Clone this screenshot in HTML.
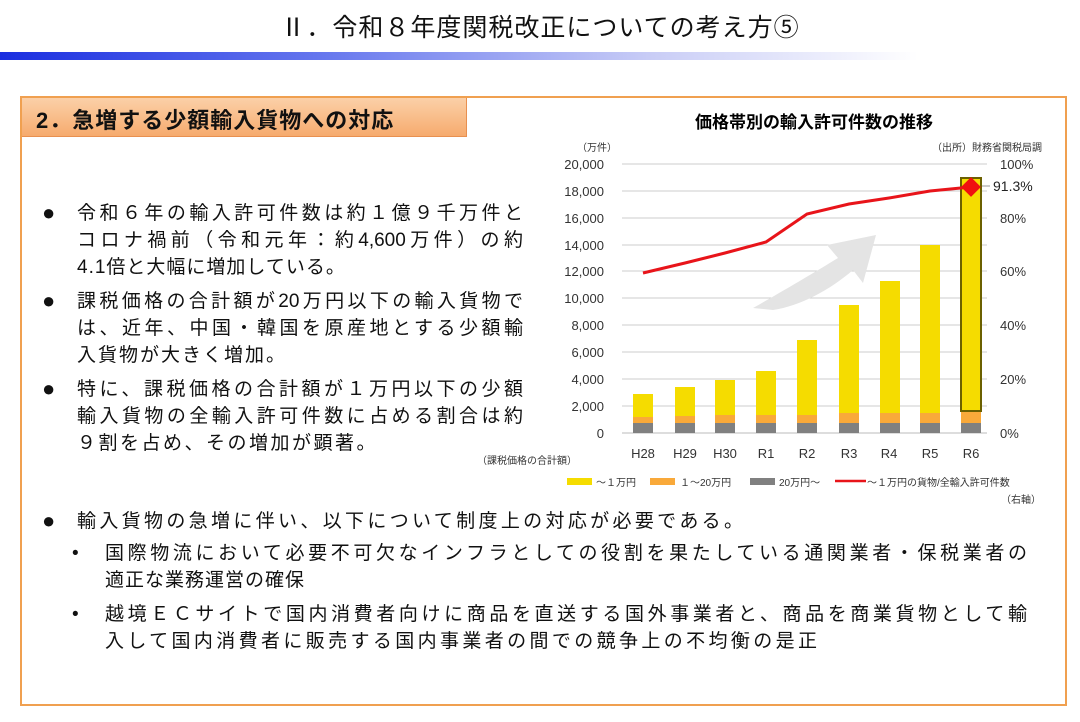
<!DOCTYPE html>
<html><head><meta charset="utf-8"><style>
body{margin:0;width:1080px;height:722px;background:#fff;position:relative;overflow:hidden;font-family:"Liberation Sans","Noto Sans CJK JP",sans-serif;color:#111}
.a{position:absolute;white-space:nowrap}
.t{font-size:19px;letter-spacing:3px;line-height:27px}
.j{text-align:justify;text-align-last:justify;letter-spacing:0}
.b{font-size:22px}
</style></head><body>
<div class="a" style="left:0;top:8px;width:1080px;text-align:center;font-size:25px;letter-spacing:1px">Ⅱ．令和８年度関税改正についての考え方⑤</div>
<div class="a" style="left:0;top:52px;width:1080px;height:8px;background:linear-gradient(90deg,#1a2ee0 0%,#6677ee 30%,#c8ccf6 60%,#fff 85%)"></div>
<div class="a" style="left:20px;top:96px;width:1043px;height:606px;border:2px solid #f0a050"></div>
<div class="a" style="left:22px;top:98px;width:444px;height:38px;background:linear-gradient(180deg,#fbd0a8,#f6ab6e);border-right:1px solid #e89050;border-bottom:1px solid #e89050"></div>
<div class="a" style="left:36px;top:103px;font-size:22px;font-weight:bold;letter-spacing:1px">2．急増する少額輸入貨物への対応</div>

<div class="a t b" style="left:42px;top:199px">●</div>
<div class="a t j" style="left:77px;top:200px;width:446px">令和６年の輸入許可件数は約１億９千万件と</div>
<div class="a t j" style="left:77px;top:227px;width:446px">コロナ禍前（令和元年：約4,600万件）の約</div>
<div class="a t" style="left:77px;top:254px;letter-spacing:1px">4.1倍と大幅に増加している。</div>
<div class="a t b" style="left:42px;top:287px">●</div>
<div class="a t j" style="left:77px;top:288px;width:446px">課税価格の合計額が20万円以下の輸入貨物で</div>
<div class="a t j" style="left:77px;top:315px;width:446px">は、近年、中国・韓国を原産地とする少額輸</div>
<div class="a t" style="left:77px;top:342px;letter-spacing:2px">入貨物が大きく増加。</div>
<div class="a t b" style="left:42px;top:375px">●</div>
<div class="a t j" style="left:77px;top:376px;width:446px">特に、課税価格の合計額が１万円以下の少額</div>
<div class="a t j" style="left:77px;top:403px;width:446px">輸入貨物の全輸入許可件数に占める割合は約</div>
<div class="a t" style="left:77px;top:430px;letter-spacing:2.5px">９割を占め、その増加が顕著。</div>

<div class="a t b" style="left:42px;top:507px">●</div>
<div class="a t j" style="left:77px;top:508px;width:666px">輸入貨物の急増に伴い、以下について制度上の対応が必要である。</div>
<div class="a t" style="left:72px;top:540px">•</div>
<div class="a t j" style="left:105px;top:540px;width:922px">国際物流において必要不可欠なインフラとしての役割を果たしている通関業者・保税業者の</div>
<div class="a t" style="left:105px;top:567px;letter-spacing:1px">適正な業務運営の確保</div>
<div class="a t" style="left:72px;top:601px">•</div>
<div class="a t j" style="left:105px;top:601px;width:922px">越境ＥＣサイトで国内消費者向けに商品を直送する国外事業者と、商品を商業貨物として輸</div>
<div class="a t j" style="left:105px;top:628px;width:712px">入して国内消費者に販売する国内事業者の間での競争上の不均衡の是正</div>

<svg class="a" style="left:0;top:0" width="1080" height="722" font-family="Liberation Sans,Noto Sans CJK JP,sans-serif">
<text x="814" y="128" font-size="17" font-weight="bold" text-anchor="middle">価格帯別の輸入許可件数の推移</text>
<text x="577" y="151" font-size="10" fill="#333">（万件）</text>
<text x="1042" y="151" font-size="10" fill="#333" text-anchor="end">（出所）財務省関税局調</text>
<g stroke="#ccc" stroke-width="1">
<line x1="622" y1="164" x2="987" y2="164"/><line x1="622" y1="191" x2="987" y2="191"/><line x1="622" y1="218" x2="987" y2="218"/><line x1="622" y1="245" x2="987" y2="245"/><line x1="622" y1="271" x2="987" y2="271"/><line x1="622" y1="298" x2="987" y2="298"/><line x1="622" y1="325" x2="987" y2="325"/><line x1="622" y1="352" x2="987" y2="352"/><line x1="622" y1="379" x2="987" y2="379"/><line x1="622" y1="406" x2="987" y2="406"/>
</g>
<line x1="622" y1="433" x2="987" y2="433" stroke="#bbb"/>
<g font-size="13" fill="#333" text-anchor="end">
<text x="604" y="169">20,000</text><text x="604" y="196">18,000</text><text x="604" y="223">16,000</text><text x="604" y="250">14,000</text><text x="604" y="276">12,000</text><text x="604" y="303">10,000</text><text x="604" y="330">8,000</text><text x="604" y="357">6,000</text><text x="604" y="384">4,000</text><text x="604" y="411">2,000</text><text x="604" y="438">0</text>
</g>
<g font-size="13" fill="#333">
<text x="1000" y="169">100%</text><text x="1000" y="223">80%</text><text x="1000" y="276">60%</text><text x="1000" y="330">40%</text><text x="1000" y="384">20%</text><text x="1000" y="438">0%</text>
</g>
<path d="M753,308 C785,290 815,272 838,258 L827,245 L876,235 L863,283 L853,270 C830,290 800,306 773,310Z" fill="#e4e4e4"/>
<g>
<rect x="633" y="394" width="20" height="23" fill="#f5dc00"/><rect x="633" y="417" width="20" height="6" fill="#f9a93a"/><rect x="633" y="423" width="20" height="10" fill="#808080"/>
<rect x="675" y="387" width="20" height="29" fill="#f5dc00"/><rect x="675" y="416" width="20" height="7" fill="#f9a93a"/><rect x="675" y="423" width="20" height="10" fill="#808080"/>
<rect x="715" y="380" width="20" height="35" fill="#f5dc00"/><rect x="715" y="415" width="20" height="8" fill="#f9a93a"/><rect x="715" y="423" width="20" height="10" fill="#808080"/>
<rect x="756" y="371" width="20" height="44" fill="#f5dc00"/><rect x="756" y="415" width="20" height="8" fill="#f9a93a"/><rect x="756" y="423" width="20" height="10" fill="#808080"/>
<rect x="797" y="340" width="20" height="75" fill="#f5dc00"/><rect x="797" y="415" width="20" height="8" fill="#f9a93a"/><rect x="797" y="423" width="20" height="10" fill="#808080"/>
<rect x="839" y="305" width="20" height="108" fill="#f5dc00"/><rect x="839" y="413" width="20" height="10" fill="#f9a93a"/><rect x="839" y="423" width="20" height="10" fill="#808080"/>
<rect x="880" y="281" width="20" height="132" fill="#f5dc00"/><rect x="880" y="413" width="20" height="10" fill="#f9a93a"/><rect x="880" y="423" width="20" height="10" fill="#808080"/>
<rect x="920" y="245" width="20" height="168" fill="#f5dc00"/><rect x="920" y="413" width="20" height="10" fill="#f9a93a"/><rect x="920" y="423" width="20" height="10" fill="#808080"/>
<rect x="961" y="178" width="20" height="233" fill="#f5dc00" stroke="#6b6000" stroke-width="2"/><rect x="961" y="412" width="20" height="11" fill="#f9a93a"/><rect x="961" y="423" width="20" height="10" fill="#808080"/>
</g>
<polyline points="643,273 685,263 725,253 766,242 807,214 849,204 889,198 930,191 971,187" fill="none" stroke="#e8141a" stroke-width="3"/>
<rect x="964" y="180" width="14" height="14" fill="#f01010" transform="rotate(45 971 187)"/>
<line x1="982" y1="186" x2="990" y2="186" stroke="#999"/>
<text x="993" y="191" font-size="14" fill="#222">91.3%</text>
<g font-size="13" fill="#333" text-anchor="middle">
<text x="643" y="458">H28</text><text x="685" y="458">H29</text><text x="725" y="458">H30</text><text x="766" y="458">R1</text><text x="807" y="458">R2</text><text x="849" y="458">R3</text><text x="889" y="458">R4</text><text x="930" y="458">R5</text><text x="971" y="458">R6</text>
</g>
<text x="477" y="464" font-size="10" fill="#333">（課税価格の合計額）</text>
<rect x="567" y="478" width="25" height="7" fill="#f5dc00"/><text x="596" y="486" font-size="10" fill="#333">～１万円</text>
<rect x="650" y="478" width="25" height="7" fill="#f9a93a"/><text x="680" y="486" font-size="10" fill="#333">１～20万円</text>
<rect x="750" y="478" width="25" height="7" fill="#808080"/><text x="779" y="486" font-size="10" fill="#333">20万円～</text>
<line x1="835" y1="481" x2="866" y2="481" stroke="#e8141a" stroke-width="2.5"/><text x="867" y="486" font-size="10" fill="#333">～１万円の貨物/全輸入許可件数</text>
<text x="1041" y="503" font-size="10" fill="#333" text-anchor="end">（右軸）</text>
</svg>
</body></html>
